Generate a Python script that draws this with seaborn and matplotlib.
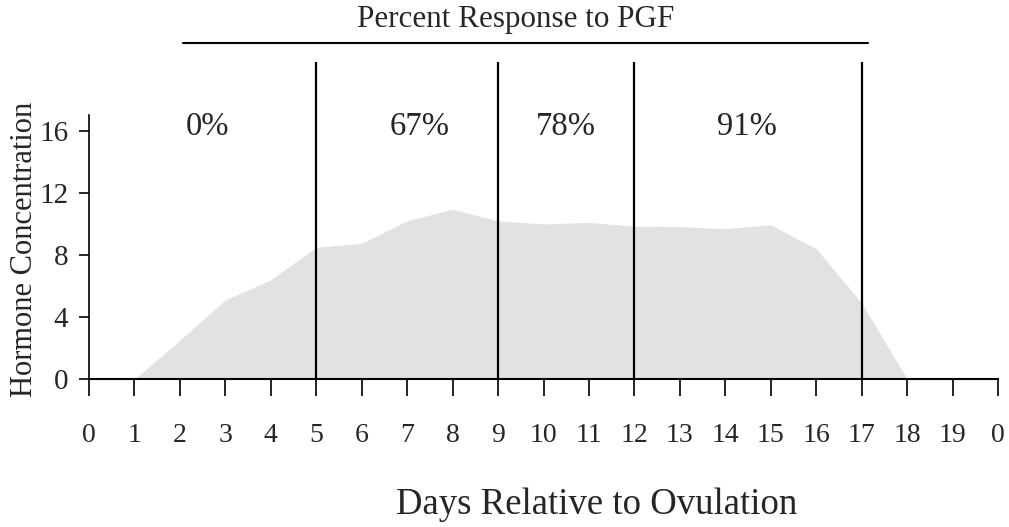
import matplotlib
matplotlib.use("Agg")
import matplotlib.pyplot as plt
import seaborn as sns
import pandas as pd

days = list(range(21))
day_labels = [str(d) for d in range(20)] + ["0"]
hormone = [0, 0, 2.5, 5.1, 6.4, 8.5, 8.75, 10.2, 10.95, 10.2, 10.0, 10.1,
           9.85, 9.83, 9.7, 9.95, 8.4, 4.9, 0, 0, 0]
boundaries = [5, 9, 12, 17]
pct_labels = ["0%", "67%", "78%", "91%"]
pct_x = [2.6, 7.28, 10.49, 14.47]
y_ticks = [0, 4, 8, 12, 16]

sns.set_style("ticks")
plt.rcParams['font.family'] = ['Liberation Serif', 'DejaVu Serif']

W, H = 1009, 527
fig = plt.figure(figsize=(W/100, H/100), dpi=100)
ax = fig.add_axes([89/W, 1 - 379/H, (998-89)/W, (379-115)/H])

df = pd.DataFrame({"day": days, "hormone": hormone})
sns.lineplot(data=df, x="day", y="hormone", ax=ax, color="#e2e2e2", lw=0)
ax.fill_between(df["day"], df["hormone"], color="#e2e2e2", lw=0)

ax.set_xlim(0, 20)
ax.set_ylim(0, 17.03)
ax.set_xticks(days)
ax.set_xticklabels(day_labels, fontsize=20)
ax.set_yticks(y_ticks)
ax.set_yticklabels([str(t) for t in y_ticks], fontsize=21)
ax.tick_params(axis="x", direction="out", length=12, width=1.2, pad=20, color="black")
ax.tick_params(axis="y", direction="out", length=7, width=1.2, pad=8, color="black")
for s in ["top", "right"]:
    ax.spines[s].set_visible(False)
ax.spines["left"].set_color("black")
ax.spines["bottom"].set_color("black")
ax.spines["left"].set_linewidth(1.2)
ax.spines["bottom"].set_linewidth(1.5)

ax.vlines(boundaries, 0, 20.45, color="black", lw=1.6, clip_on=False)

for lab, x in zip(pct_labels, pct_x):
    ax.text(x, 16.3, lab, ha="center", va="center", fontsize=23.5)

ax.set_xlabel("Days Relative to Ovulation", fontsize=26.5)
ax.xaxis.label.set_va("center")
ax.xaxis.set_label_coords((597-89)/909, (379-505)/264)
ax.set_ylabel("Hormone Concentration", fontsize=22)
ax.yaxis.label.set_va("center")
ax.yaxis.set_label_coords((25-89)/909, (379-249)/264)

fig.lines.append(plt.Line2D([183/W, 868/W], [1-43/H, 1-43/H],
                            transform=fig.transFigure, color="black", lw=1.5))
fig.text(516/W, 1-20/H, "Percent Response to PGF", ha="center", va="center", fontsize=22.4)

fig.savefig("out.png", dpi=100)
